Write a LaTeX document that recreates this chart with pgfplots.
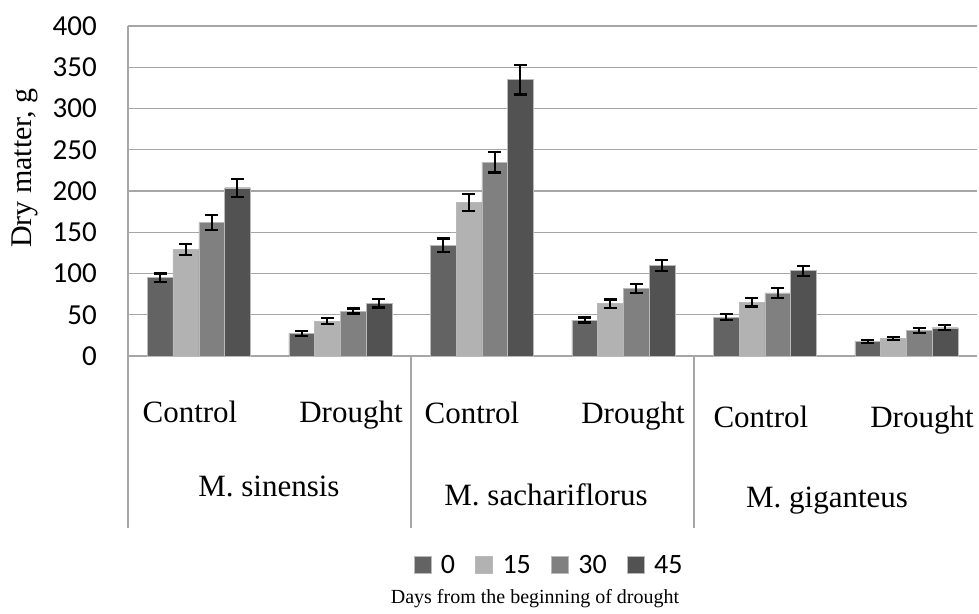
\documentclass[border=0pt]{standalone}
\usepackage{pgfplots}
\pgfplotsset{compat=1.18}
\usepackage{fontspec}
\setmainfont{Liberation Serif}
\newfontfamily\calfont{Carlito}
\definecolor{cA}{HTML}{636363}
\definecolor{cB}{HTML}{B2B2B2}
\definecolor{cC}{HTML}{808080}
\definecolor{cD}{HTML}{525252}
\definecolor{gridc}{HTML}{A6A6A6}
\tikzset{catlab/.style={anchor=base, inner sep=0pt, font=\fontsize{31}{31}\selectfont}}
\begin{document}
\begin{tikzpicture}
\begin{axis}[
  at={(0pt,0pt)}, anchor=south west,
  scale only axis, width=849pt, height=330pt,
  xmin=-0.5, xmax=5.5, ymin=0, ymax=400,
  enlarge x limits=false,
  ytick={0,50,...,400}, xtick=\empty,
  axis x line*=bottom, axis y line*=left,
  axis line style={draw=gridc, line width=1.2pt, -},
  ymajorgrids, major grid style={draw=gridc, line width=1.2pt},
  major tick length=0pt,
  /pgf/number format/assume math mode=true,
  yticklabel style={font=\calfont\fontsize{29}{29}\selectfont, inner sep=0pt, anchor=east, xshift=-31pt},
  clip=false,
  ybar=0pt, bar width=25.75pt,
  every axis plot/.append style={draw=gray!55, line width=0.4pt},
  error bars/error bar style={black, line width=2.2pt},
  error bars/error mark options={rotate=90, black, mark size=6.5pt, line width=2.2pt},
  legend columns=4,
  legend style={at={(0.4947,-0.633)}, anchor=center, draw=none, fill=none,
    font=\calfont\fontsize{28}{28}\selectfont,
    /tikz/every even column/.append style={column sep=20pt},
    nodes={inner sep=0pt}},
  legend image code/.code={\fill[#1] (0pt,-8.5pt) rectangle (17pt,8.5pt);},
]
\addplot[fill=cA, error bars/.cd, y dir=both, y explicit] coordinates {
 (0,95) +- (0,5) (1,27.5) +- (0,3) (2,134.5) +- (0,8) (3,43.6) +- (0,3) (4,47) +- (0,3.5) (5,17.8) +- (0,2)};
\addplot[fill=cB, error bars/.cd, y dir=both, y explicit] coordinates {
 (0,129) +- (0,7) (1,42.4) +- (0,4) (2,186) +- (0,10) (3,63.4) +- (0,5) (4,65) +- (0,5) (5,21.4) +- (0,2)};
\addplot[fill=cC, error bars/.cd, y dir=both, y explicit] coordinates {
 (0,162) +- (0,9) (1,54.5) +- (0,3) (2,235) +- (0,12.5) (3,81.6) +- (0,5.5) (4,76.4) +- (0,6) (5,30.7) +- (0,3)};
\addplot[fill=cD, error bars/.cd, y dir=both, y explicit] coordinates {
 (0,204) +- (0,11) (1,63.8) +- (0,5) (2,335) +- (0,18) (3,109.5) +- (0,6.5) (4,103.4) +- (0,6) (5,34.3) +- (0,3)};
\legend{\hspace{10pt}0,\hspace{10pt}15,\hspace{10pt}30,\hspace{10pt}45}
% separators
\draw[gridc, line width=1.2pt] (axis cs:-0.5,0) -- (axis cs:-0.5,-208.5);
\draw[gridc, line width=1.2pt] (axis cs:1.5,0) -- (axis cs:1.5,-208.5);
\draw[gridc, line width=1.2pt] (axis cs:3.5,0) -- (axis cs:3.5,-208.5);
% category labels
\node[catlab] at (axis cs:-0.062,-80) {Control};
\node[catlab] at (axis cs:1.076,-80) {Drought};
\node[catlab] at (axis cs:1.931,-82.4) {Control};
\node[catlab] at (axis cs:3.069,-82.4) {Drought};
\node[catlab] at (axis cs:3.973,-86.1) {Control};
\node[catlab] at (axis cs:5.111,-86.1) {Drought};
\node[catlab] at (axis cs:0.496,-170.9) {M. sinensis};
\node[catlab] at (axis cs:2.454,-180.6) {M. sachariflorus};
\node[catlab] at (axis cs:4.44,-184.2) {M. giganteus};
\end{axis}
\node[rotate=90, inner sep=0pt, font=\fontsize{30}{30}\selectfont] at (-103pt,188pt) {Dry matter, g};
\node[inner sep=0pt, font=\fontsize{20}{20}\selectfont] at (407pt,-243pt) {Days from the beginning of drought};
\useasboundingbox (-128pt,-257pt) rectangle (851pt,356pt);
\end{tikzpicture}
\end{document}
